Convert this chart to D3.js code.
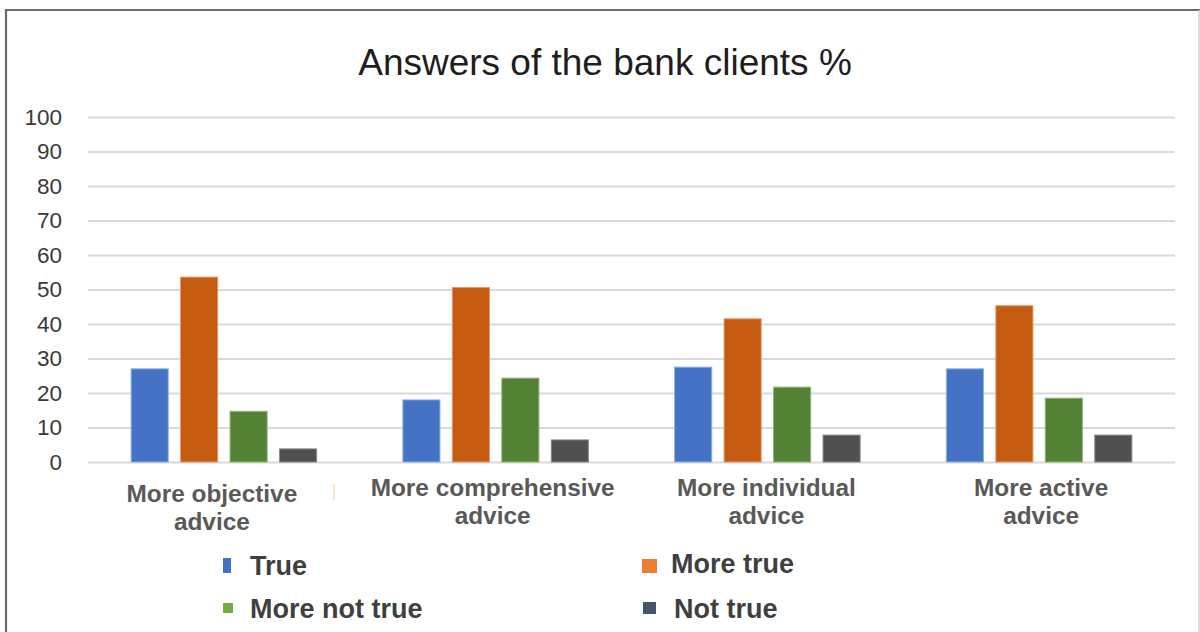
<!DOCTYPE html>
<html>
<head>
<meta charset="utf-8">
<script src="https://cdn.jsdelivr.net/npm/d3@7"></script>
<style>
  html, body { margin: 0; padding: 0; background: #fff; }
  svg { display: block; }
</style>
</head>
<body>
<svg id="chart" width="1200" height="632"></svg>
<script>
// Survey answers (%) per kind of advice
const categories = [
  ["More objective", "advice"],
  ["More comprehensive", "advice"],
  ["More individual", "advice"],
  ["More active", "advice"]
];
const seriesNames = ["True", "More true", "More not true", "Not true"];
const trueValues        = [27, 18, 27.5, 27];
const moreTrueValues    = [53.6, 50.6, 41.5, 45.3];
const moreNotTrueValues = [14.7, 24.3, 21.7, 18.5];
const notTrueValues     = [3.8, 6.4, 7.8, 7.8];
const yTicks = [0, 10, 20, 30, 40, 50, 60, 70, 80, 90, 100];
const titleText = "Answers of the bank clients %";

const values = [trueValues, moreTrueValues, moreNotTrueValues, notTrueValues];

// Bar fills and the (slightly different) legend swatch fills
const barColors    = ["#4472C4", "#C55A11", "#548235", "#505050"];
const barStrokes   = ["#8FAEE3", "#E59A6A", "#8DB577", "#8A8A8A"];
const legendColors = ["#4472C4", "#ED7D31", "#70AD47", "#44546A"];

const svg = d3.select("#chart");
const W = 1200, H = 632;
const font = "'Liberation Sans', Arial, sans-serif";

// Frame
svg.append("rect").attr("x", 0).attr("y", 0).attr("width", W).attr("height", H).attr("fill", "#fff");
svg.append("line").attr("x1", 6).attr("x2", W).attr("y1", 10).attr("y2", 10)
  .attr("stroke", "#6b6b6b").attr("stroke-width", 2.2);
svg.append("line").attr("x1", 6).attr("x2", 6).attr("y1", 9).attr("y2", H)
  .attr("stroke", "#6b6b6b").attr("stroke-width", 2.2);
svg.append("line").attr("x1", 1199).attr("x2", 1199).attr("y1", 10).attr("y2", H)
  .attr("stroke", "#d0d0d0").attr("stroke-width", 1.5);

// Title
svg.append("text")
  .attr("x", 605).attr("y", 75)
  .attr("text-anchor", "middle")
  .attr("font-family", font)
  .attr("font-size", 37)
  .attr("fill", "#1e1e1e")
  .text(titleText);

// Scales
const plotLeft = 88, plotRight = 1175, plotTop = 117, plotBottom = 462;
const y = d3.scaleLinear().domain([0, 100]).range([plotBottom, plotTop]);
const catKeys = categories.map(c => c.join(" "));
const x0 = d3.scaleBand().domain(catKeys).range([plotLeft, plotRight])
  .paddingInner(0.27).paddingOuter(0.135);
const x1 = d3.scaleBand().domain(seriesNames).range([0, x0.bandwidth()])
  .paddingInner(0.23).paddingOuter(0.12);

// Gridlines and value axis labels
const yAxis = d3.axisLeft(y).tickValues(yTicks).tickSize(-(plotRight - plotLeft)).tickPadding(26);
const gy = svg.append("g").attr("transform", `translate(${plotLeft},0)`).call(yAxis);
gy.select(".domain").remove();
gy.selectAll(".tick line").attr("stroke", "#d9d9d9").attr("stroke-width", 2);
gy.selectAll(".tick text")
  .attr("font-family", font)
  .attr("font-size", 22.5)
  .attr("fill", "#3a3a3a");

// Bars
const groups = svg.append("g").selectAll("g")
  .data(catKeys)
  .join("g")
  .attr("transform", d => `translate(${x0(d)},0)`);

groups.selectAll("rect")
  .data((d, ci) => seriesNames.map((s, si) => ({ s, si, v: values[si][ci] })))
  .join("rect")
  .attr("x", d => x1(d.s) + 0.5)
  .attr("y", d => y(d.v))
  .attr("width", x1.bandwidth() - 1)
  .attr("height", d => y(0) - y(d.v))
  .attr("fill", d => barColors[d.si])
  .attr("stroke", d => barStrokes[d.si])
  .attr("stroke-width", 1);

// Category labels (two lines each)
const labelDx = [-12, -3, -1, 2];
const labelDy = [6, 0, 0, 0];
const catLabels = svg.append("g")
  .attr("font-family", font)
  .attr("font-size", 24.4)
  .attr("font-weight", "bold")
  .attr("fill", "#595959")
  .attr("text-anchor", "middle");
categories.forEach((lines, i) => {
  const cx = x0(catKeys[i]) + x0.bandwidth() / 2 + labelDx[i];
  const t = catLabels.append("text").attr("y", 496 + labelDy[i]);
  lines.forEach((ln, k) => {
    t.append("tspan").attr("x", cx).attr("dy", k === 0 ? 0 : 28).text(ln);
  });
});

// Faint tick mark between the first two category labels
svg.append("line").attr("x1", 334).attr("x2", 334).attr("y1", 484).attr("y2", 500)
  .attr("stroke", "#f6dcb8").attr("stroke-width", 1.5);

// Legend
const legendItems = [
  { x: 223, y: 558, w: 8,  h: 15, tx: 250, ty: 575 },
  { x: 642, y: 559, w: 15, h: 14, tx: 671, ty: 573 },
  { x: 223, y: 603, w: 10, h: 10, tx: 250, ty: 618 },
  { x: 643, y: 602, w: 13, h: 12, tx: 674, ty: 618 }
];
const legend = svg.append("g");
seriesNames.forEach((name, i) => {
  const it = legendItems[i];
  legend.append("rect")
    .attr("x", it.x).attr("y", it.y).attr("width", it.w).attr("height", it.h)
    .attr("fill", legendColors[i]);
  legend.append("text")
    .attr("x", it.tx).attr("y", it.ty)
    .attr("font-family", font)
    .attr("font-size", 27)
    .attr("font-weight", "bold")
    .attr("fill", "#3f3f3f")
    .text(name);
});
</script>
</body>
</html>
